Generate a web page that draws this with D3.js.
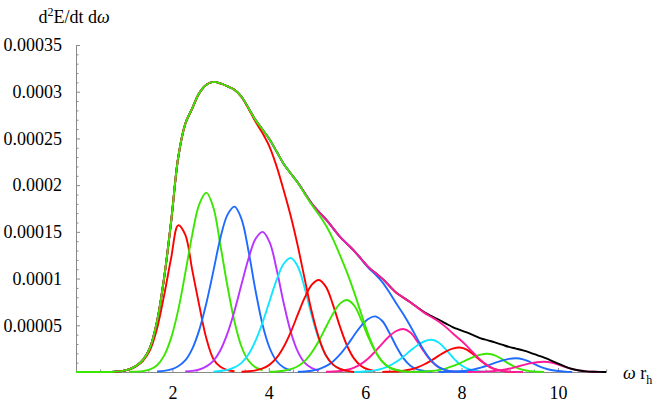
<!DOCTYPE html>
<html><head><meta charset="utf-8">
<script src="https://cdn.jsdelivr.net/npm/d3@7"></script>
<style>
html,body{margin:0;padding:0;background:#fff;}
svg{display:block;}
svg text{font-family:"Liberation Serif","Times New Roman",serif !important;fill:#000;}
</style></head><body>
<svg id="chart" width="662" height="409"></svg>
<script>
// ---------- DATA (values in units of 1e-5) ----------
const UNIT = 1e-5;
const omega = [0, 0.514, 0.66, 0.806, 0.952, 1.098, 1.244, 1.39, 1.536, 1.682, 1.828, 1.974,
  2.12, 2.266, 2.412, 2.558, 2.704, 2.85, 2.996, 3.142, 3.288, 3.434, 3.58, 3.726, 3.872,
  4.018, 4.164, 4.31, 4.456, 4.602, 4.748, 4.894, 5.04, 5.186, 5.332, 5.478, 5.624, 5.77,
  5.916, 6.062, 6.208, 6.354, 6.5, 6.646, 6.792, 6.938, 7.084, 7.23, 7.376, 7.522, 7.668,
  7.814, 7.96, 8.106, 8.252, 8.398, 8.544, 8.69, 8.836, 8.982, 9.128, 9.274, 9.42, 9.566,
  9.712, 9.858, 10.004, 10.15, 10.296, 10.442, 10.588, 10.734, 10.88, 11.0];

// individual peaks: first index into omega, then values
const peakStart = [3, 5, 9, 13, 17, 21, 25, 29, 33, 37, 41, 45, 49, 53];
const peak1  = [0.03,0.1,0.25,0.6,1.2,2.35,4.66,8.2,12.2,15.7,14.7,10.9,7.1,3.6,1.4,0.55,0.2,0.08];
const peak2  = [0.02,0.04,0.1,0.27,0.73,1.75,3.65,6.62,10.56,14.71,17.97,19.2,17.61,13.57,9.2,5.4,2.7,1.2,0.5,0.19];
const peak3  = [0.05,0.12,0.28,0.62,1.24,2.48,4.51,7.35,10.80,14.34,16.82,17.7,16.37,12.92,8.67,5.04,2.57,1.15,0.48,0.18];
const peak4  = [0.05,0.12,0.27,0.60,1.20,2.33,4.13,6.53,9.38,12.15,14.25,15.0,13.88,10.95,7.35,4.28,2.18,0.98,0.41,0.15];
const peak5  = [0.04,0.10,0.22,0.49,0.98,1.89,3.36,5.31,7.63,9.88,11.59,12.2,11.29,8.91,5.98,3.48,1.77,0.79,0.33,0.12];
const peak6  = [0.03,0.08,0.18,0.39,0.79,1.53,2.71,4.28,6.16,7.98,9.36,9.85,9.11,7.19,4.83,2.81,1.43,0.64,0.27,0.10];
const peak7  = [0.02,0.06,0.14,0.31,0.62,1.19,2.12,3.35,4.81,6.24,7.32,7.7,7.12,5.62,3.77,2.19,1.12,0.50,0.21,0.08];
const peak8  = [0.02,0.06,0.14,0.31,0.62,1.13,1.88,2.84,3.93,4.95,5.68,5.95,5.46,4.21,2.73,1.49,0.68,0.27,0.10,0.03];
const peak9  = [0.02,0.05,0.11,0.24,0.48,0.87,1.45,2.20,3.04,3.83,4.39,4.6,4.22,3.25,2.11,1.15,0.52,0.21,0.07,0.02];
const peak10 = [0.01,0.03,0.08,0.18,0.36,0.66,1.09,1.65,2.28,2.87,3.29,3.45,3.16,2.44,1.58,0.86,0.39,0.16,0.06,0.02];
const peak11 = [0.01,0.03,0.06,0.14,0.27,0.50,0.83,1.25,1.73,2.18,2.50,2.62,2.40,1.85,1.20,0.66,0.30,0.12,0.04,0.01];
const peak12 = [0.01,0.02,0.05,0.10,0.20,0.37,0.62,0.93,1.29,1.62,1.86,1.95,1.79,1.38,0.89,0.49,0.22,0.09,0.03,0.01];
const peak13 = [0.01,0.01,0.04,0.08,0.15,0.28,0.46,0.70,0.97,1.22,1.40,1.47,1.36,1.07,0.72,0.42,0.21,0.10,0.04,0.01];
const peak14 = [0.00,0.01,0.03,0.06,0.11,0.21,0.35,0.53,0.73,0.92,1.05,1.1,1.02,0.80,0.54,0.31,0.16,0.07,0.03,0.01];
const peaks = [peak1,peak2,peak3,peak4,peak5,peak6,peak7,peak8,peak9,peak10,peak11,peak12,peak13,peak14];
const peakColors = ["#ff0000","#3be600","#1f6bff","#bb33ff","#11e6ff","#ff0000","#3be600",
  "#1f6bff","#ff1a99","#11e6ff","#ff0000","#3be600","#1f6bff","#ff1a99"];

// partial sums (each starts at omega index 0)
const totalBlack = [0, 0,0,0.03,0.1,0.27,0.64,1.3,2.62,5.44,10.07,16.13,22.94,26.55,28.21,29.85,30.75,31.05,
  30.89,30.57,30.20,29.46,28.24,26.96,25.93,24.89,23.57,22.27,21.25,20.27,19.12,18.01,17.14,16.33,15.40,
  14.47,13.71,12.97,12.11,11.25,10.62,9.99,9.23,8.48,7.96,7.46,6.91,6.38,5.98,5.62,5.21,4.81,4.51,4.23,
  3.92,3.61,3.39,3.17,2.93,2.68,2.50,2.31,2.08,1.80,1.53,1.23,0.90,0.58,0.32,0.16,0.07,0.03,0.01, 0];
const sumPink = [0, 0,0,0.03,0.1,0.27,0.64,1.3,2.62,5.44,10.07,16.13,22.94,26.55,28.21,29.85,30.75,31.05,
  30.89,30.57,30.20,29.46,28.24,26.96,25.93,24.89,23.57,22.27,21.25,20.27,19.12,18.01,17.14,16.33,15.40,
  14.47,13.71,12.97,12.11,11.25,10.62,9.99,9.23,8.48,7.96,7.45,6.89,6.33,5.88,5.41,4.83,4.15,3.50,2.79,
  2.01,1.26,0.68,0.30,0.12,0.04,0.01, 0];
const sumBlue = [0, 0,0,0.03,0.1,0.27,0.64,1.3,2.62,5.44,10.07,16.13,22.94,26.55,28.21,29.85,30.75,31.05,
  30.89,30.57,30.20,29.46,28.24,26.96,25.93,24.89,23.57,22.27,21.25,20.27,19.12,18.01,17.14,16.33,15.40,
  14.47,13.71,12.96,12.08,11.17,10.44,9.62,8.54,7.33,6.17,4.90,3.52,2.21,1.18,0.52,0.21,0.07,0.02, 0];
const sumRed = [0, 0,0,0.03,0.1,0.27,0.64,1.3,2.62,5.44,10.07,16.13,22.94,26.55,28.21,29.85,30.75,31.05,
  30.89,30.57,30.20,29.43,28.16,26.78,25.54,24.08,21.98,19.42,16.66,13.47,9.89,6.39,3.63,1.77,0.79,
  0.33,0.12, 0];
const sumGreen = [0, 0,0,0.03,0.1,0.27,0.64,1.3,2.62,5.44,10.07,16.13,22.94,26.55,28.21,29.85,30.75,31.05,
  30.89,30.57,30.20,29.46,28.24,26.96,25.93,24.89,23.57,22.27,21.25,20.25,19.06,17.87,16.83,15.69,14.22,
  12.48,10.63,8.55,6.26,4.04,2.29,1.12,0.50,0.21,0.08, 0];
const sums = [totalBlack, sumBlue, sumPink, sumRed, sumGreen];
const sumColors = ["#000000","#1f6bff","#ff1a99","#ff0000","#3be600"];

const yTicks = [0.00005,0.0001,0.00015,0.0002,0.00025,0.0003,0.00035];
const yTickLabels = ["0.00005","0.0001","0.00015","0.0002","0.00025","0.0003","0.00035"];
const xTicks = [2,4,6,8,10];
const xTickLabels = ["2","4","6","8","10"];

// ---------- DRAW ----------
const svg = d3.select("#chart");
const x = d3.scaleLinear().domain([0, 11]).range([76, 606.2]);
const y = d3.scaleLinear().domain([0, 0.00035]).range([372, 45]);
const axisColor = "#8a8a8a";
const serif = "'Liberation Serif', 'Times New Roman', serif";

const yMinor = d3.range(1, 36).filter(d => d % 5 !== 0).map(d => d * 1e-5);
const xMinor = d3.range(1, 23).filter(d => d % 4 !== 0).map(d => d * 0.5);

const gy = svg.append("g").attr("transform", "translate(76,0)");
gy.call(d3.axisLeft(y).tickValues(yTicks).tickFormat((d, i) => yTickLabels[i])
  .tickSizeInner(-4).tickSizeOuter(0).tickPadding(14));
gy.append("g").call(d3.axisLeft(y).tickValues(yMinor).tickFormat("").tickSizeInner(-2.5).tickSizeOuter(0))
  .select(".domain").remove();

const gx = svg.append("g").attr("transform", "translate(0,372)");
gx.call(d3.axisBottom(x).tickValues(xTicks).tickFormat((d, i) => xTickLabels[i])
  .tickSizeInner(-4).tickSizeOuter(0).tickPadding(14));
gx.append("g").call(d3.axisBottom(x).tickValues(xMinor).tickFormat("").tickSizeInner(-2.5).tickSizeOuter(0))
  .select(".domain").remove();

svg.selectAll("g").attr("font-family", null);
svg.selectAll(".domain").attr("stroke", axisColor).attr("stroke-width", 1);
svg.selectAll(".tick line").attr("stroke", axisColor);
svg.selectAll(".tick text").style("font-family", serif).style("font-size", "18px").attr("fill", "#000");

const line = d3.line().x(d => x(d[0])).y(d => y(d[1] * UNIT)).curve(d3.curveCatmullRom.alpha(0.5));
const plot = svg.append("g");

peaks.forEach((vals, k) => {
  const pts = vals.map((v, i) => [omega[peakStart[k] + i], v]);
  plot.append("path").attr("d", line(pts)).attr("fill", "none")
    .attr("stroke", peakColors[k]).attr("stroke-width", 1.9).attr("stroke-linejoin", "round");
});
sums.forEach((vals, k) => {
  const pts = vals.map((v, i) => [omega[i], v]);
  plot.append("path").attr("d", line(pts)).attr("fill", "none")
    .attr("stroke", sumColors[k]).attr("stroke-width", 1.9).attr("stroke-linejoin", "round");
});

// axis labels
const yl = svg.append("text").attr("x", 74).attr("y", 23).attr("text-anchor", "middle")
  .style("font-family", serif).style("font-size", "18px");
yl.append("tspan").text("d");
yl.append("tspan").style("font-size", "12px").attr("dy", -7).text("2");
yl.append("tspan").attr("dy", 7).text("E/dt d");
yl.append("tspan").attr("font-style", "italic").text("ω");

const xl = svg.append("text").attr("x", 623).attr("y", 379)
  .style("font-family", serif).style("font-size", "18px");
xl.append("tspan").attr("font-style", "italic").text("ω");
xl.append("tspan").text(" r");
xl.append("tspan").style("font-size", "12px").attr("dy", 5).text("h");
</script>
</body></html>
